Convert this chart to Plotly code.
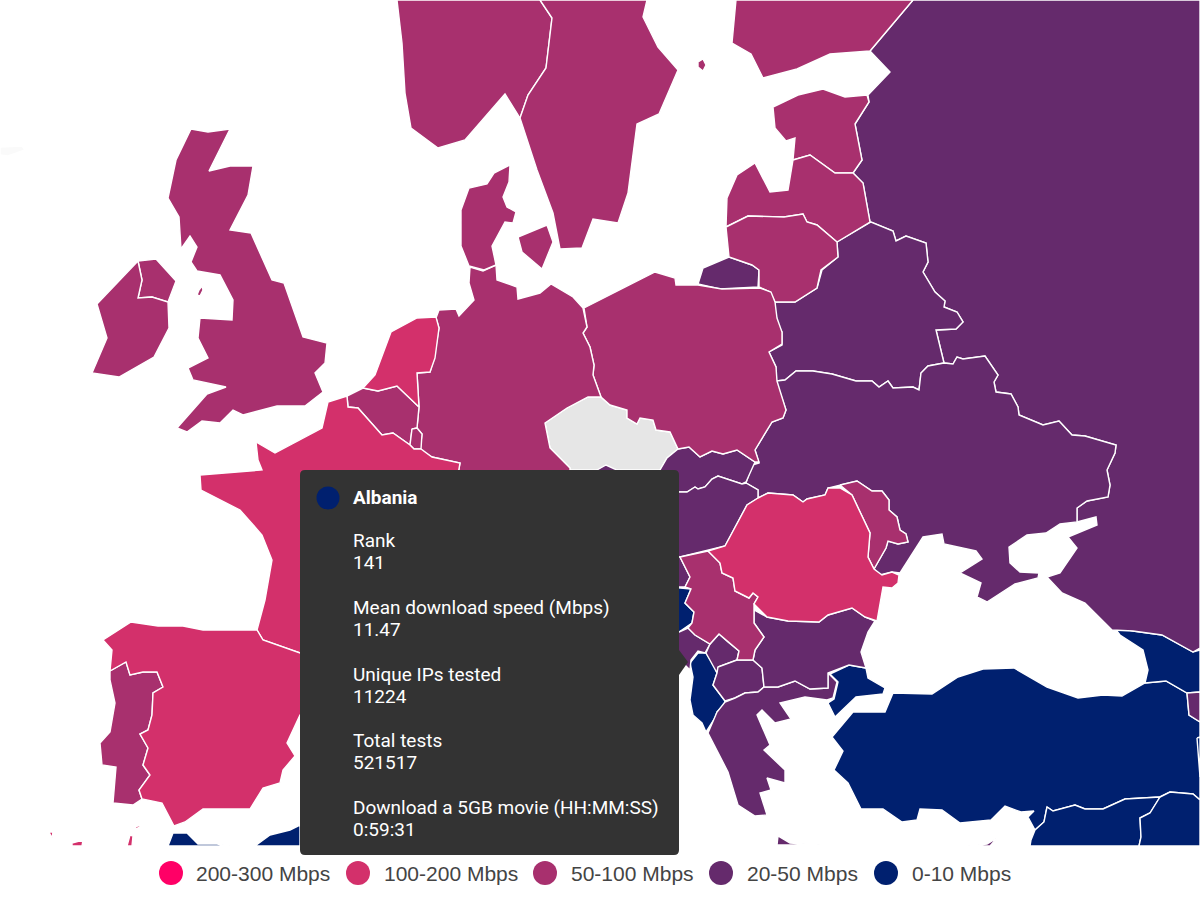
import plotly.graph_objects as go

# outlines, in map units (0-1200 across, 0-900 down)
norway = [(397,0),(402,43),(405,93),(411,128),(438,148),(465,140),(505,94),(520,118),(528,95),(546,68),(549,43),(552,18),(540,0)]
sweden = [(540,0),(552,18),(549,43),(546,68),(528,95),(520,118),(537,170),(553,213),(560,249),(582,248),(593,219),(618,223),(628,193),(632,160),(637,124),(659,114),(678,70),(658,47),(643,17),(647,0)]
finland = [(736,0),(732,43),(751,54),(763,78),(797,69),(830,54),(870,51),(900,15),(913,0)]
russia = [(913,0),(870,51),(890,72),(868,95),(869,102),(855,124),(862,160),(853,173),(863,183),(870,222),(893,231),(896,241),(906,236),(926,243),(928,262),(923,272),(935,292),(945,301),(944,307),(957,312),(963,322),(956,329),(936,330),(944,363),(953,364),(957,357),(963,359),(985,356),(998,375),(994,382),(996,392),(1011,394),(1018,407),(1019,415),(1043,425),(1059,421),(1072,435),(1085,436),(1116,445),(1115,453),(1107,470),(1110,485),(1108,497),(1087,501),(1077,508),(1077,522),(1096,517),(1097,525),(1068,537),(1077,548),(1060,573),(1047,577),(1062,593),(1085,603),(1112,630),(1133,631),(1162,635),(1193,652),(1200,648),(1200,0)]
kaliningrad = [(698,284),(703,268),(729,257),(752,265),(759,270),(758,287),(720,289)]
estonia = [(773,107),(798,95),(823,89),(845,97),(867,95),(869,102),(855,124),(862,160),(853,173),(835,173),(810,155),(793,160),(795,138),(786,141),(775,128)]
latvia = [(793,160),(810,155),(835,173),(853,173),(863,183),(870,222),(837,242),(817,225),(807,222),(803,214),(784,217),(748,216),(726,227),(727,198),(737,175),(755,163),(770,192),(788,190)]
lithuania = [(726,227),(748,216),(784,217),(803,214),(807,222),(817,225),(837,242),(838,257),(821,270),(817,288),(795,302),(775,302),(770,292),(759,287),(759,270),(752,265),(729,257)]
belarus = [(871,222),(837,242),(838,257),(822,270),(817,288),(795,302),(775,302),(775,320),(782,332),(782,345),(769,352),(776,367),(776,381),(785,380),(796,371),(813,371),(832,374),(856,381),(872,381),(879,387),(888,381),(893,388),(913,387),(919,390),(921,373),(928,366),(944,363),(936,330),(956,329),(963,322),(957,312),(944,307),(945,301),(935,292),(923,272),(928,262),(926,243),(906,236),(896,241),(893,231)]
ukraine = [(776,381),(785,380),(796,371),(813,371),(832,374),(856,381),(872,381),(879,387),(888,381),(893,388),(913,387),(919,390),(921,373),(928,366),(944,363),(953,364),(957,357),(963,359),(985,356),(998,375),(994,382),(996,392),(1011,394),(1018,407),(1019,415),(1043,425),(1059,421),(1072,435),(1085,436),(1116,445),(1115,453),(1107,470),(1110,485),(1108,497),(1087,501),(1077,508),(1077,522),(1060,524),(1046,533),(1027,535),(1009,547),(1010,563),(1020,572),(1039,573),(1038,578),(1015,584),(987,602),(977,597),(981,583),(960,573),(982,559),(976,551),(944,544),(942,534),(923,537),(900,573),(892,572),(880,575),(874,569),(886,548),(888,541),(898,544),(908,542),(906,534),(900,530),(897,517),(889,510),(889,500),(882,491),(872,491),(857,481),(840,485),(828,488),(825,495),(807,499),(803,502),(793,495),(768,493),(758,498),(758,490),(746,483),(752,465),(759,463),(755,450),(772,422),(783,418),(786,410)]
moldova = [(840,485),(857,481),(872,491),(882,491),(889,500),(889,510),(897,517),(900,530),(906,534),(908,542),(898,544),(888,541),(886,548),(874,569),(868,557),(870,533),(852,495)]
poland = [(584,308),(655,272),(675,278),(676,285),(698,285),(722,289),(760,288),(771,292),(775,302),(777,318),(782,332),(782,344),(769,352),(776,367),(777,381),(786,410),(783,418),(772,422),(755,450),(759,462),(755,462),(737,450),(723,454),(712,451),(700,457),(689,447),(678,449),(670,432),(656,430),(653,420),(640,418),(637,424),(627,418),(627,410),(610,405),(601,397),(593,375),(594,365),(590,347),(583,333),(587,327)]
germany = [(470,267),(483,271),(496,265),(497,280),(517,287),(518,299),(540,293),(551,284),(573,297),(583,308),(587,327),(583,333),(590,347),(594,365),(593,375),(601,397),(588,397),(567,408),(545,423),(550,448),(570,468),(570,480),(457,480),(460,463),(432,457),(420,450),(422,434),(417,428),(419,407),(417,373),(430,372),(434,358),(439,328),(436,318),(439,310),(456,309),(459,316),(474,300),(469,283)]
netherlands = [(391,332),(417,318),(436,317),(439,328),(435,358),(430,372),(417,373),(419,407),(397,386),(378,391),(363,388),(375,375)]
belgium = [(347,396),(363,388),(378,391),(397,386),(419,407),(417,428),(412,429),(410,445),(393,433),(382,435),(358,408),(348,407)]
luxembourg = [(412,429),(417,428),(422,434),(421,449),(414,449),(410,445)]
france = [(328,402),(347,396),(348,407),(358,408),(382,435),(393,433),(410,445),(414,449),(421,449),(432,457),(460,463),(457,480),(320,660),(300,653),(263,640),(257,630),(265,600),(272,560),(262,535),(240,510),(201,490),(200,475),(262,470),(258,460),(256,442),(275,453),(322,428)]
spain = [(103,640),(131,622),(158,626),(183,626),(203,630),(257,630),(263,640),(300,653),(320,660),(320,700),(300,715),(287,743),(295,756),(283,770),(280,783),(263,788),(250,809),(203,809),(185,822),(174,826),(162,803),(142,799),(139,790),(150,775),(143,765),(148,748),(140,734),(148,730),(152,715),(153,693),(163,687),(157,672),(143,672),(130,675),(126,662),(110,671),(112,650)]
portugal = [(110,671),(126,662),(130,675),(143,672),(157,672),(163,687),(153,693),(152,715),(148,730),(140,734),(148,748),(143,765),(150,775),(139,790),(142,799),(133,805),(113,803),(116,767),(102,765),(100,743),(110,732),(115,703),(110,680)]
canaries_a = [(49,832),(53,832),(52,838)]
canaries_b = [(72,843),(83,840),(82,846),(72,846)]
canaries_c = [(130,835),(133,836),(132,846),(127,846)]
canaries_d = [(135,827),(140,825),(140,827),(136,829)]
morocco = [(168,846),(173,833),(187,833),(198,844),(217,844),(230,846)]
algeria = [(255,846),(270,835),(290,830),(300,825),(300,846)]
britain = [(191,129),(208,132),(230,129),(209,171),(230,166),(253,166),(248,195),(230,230),(251,233),(272,280),(284,283),(303,337),(327,343),(325,363),(315,373),(323,392),(305,406),(277,406),(243,415),(233,410),(220,423),(202,421),(187,432),(177,428),(207,394),(226,387),(193,380),(188,368),(208,358),(198,338),(200,318),(232,320),(233,300),(220,275),(197,271),(191,262),(197,247),(190,236),(181,249),(179,217),(168,198),(176,160)]
isle_of_man = [(202,286),(203,290),(200,296),(197,295),(199,290)]
n_ireland = [(138,261),(156,259),(176,281),(168,302),(152,297),(138,298),(142,280)]
ireland = [(138,261),(142,280),(138,298),(152,297),(168,302),(169,328),(154,357),(119,377),(92,373),(107,338),(97,304)]
denmark = [(510,165),(509,182),(503,197),(507,207),(516,212),(513,223),(505,222),(492,246),(496,265),(484,270),(469,266),(461,246),(461,210),(469,188),(487,184),(494,173)]
zealand = [(518,237),(547,225),(553,242),(542,269),(522,252)]
aland = [(698,62),(703,59),(706,65),(703,71),(698,67)]
czechia = [(601,397),(610,405),(627,410),(627,418),(637,424),(640,418),(653,420),(656,430),(670,432),(678,449),(667,458),(660,470),(570,470),(570,468),(550,448),(545,423),(567,408),(588,397)]
iceland = [(0,147),(22,146),(25,150),(8,156),(0,155)]
austria = [(590,480),(597,470),(606,465),(617,470),(625,480)]
slovakia = [(678,449),(689,447),(700,457),(712,451),(723,454),(737,450),(755,462),(746,482),(742,484),(718,476),(712,479),(705,487),(698,489),(695,487),(687,492),(660,492),(660,470),(667,458)]
hungary = [(670,492),(687,492),(695,487),(698,489),(705,487),(712,479),(718,476),(742,484),(746,483),(758,490),(758,498),(747,505),(725,546),(708,550),(680,557),(670,557)]
croatia = [(670,557),(680,557),(690,577),(685,587),(670,587)]
bosnia = [(670,587),(691,589),(685,603),(694,612),(692,623),(679,632),(670,632)]
montenegro = [(670,636),(688,628),(695,635),(710,644),(705,653),(698,651),(691,660),(690,670),(670,650)]
serbia = [(680,557),(708,551),(720,563),(722,573),(733,578),(735,591),(749,598),(753,593),(758,597),(754,604),(754,610),(754,623),(764,637),(755,650),(753,660),(737,660),(739,651),(728,642),(719,634),(710,644),(695,635),(688,628),(692,623),(694,612),(685,603),(691,589),(685,587),(690,577)]
kosovo = [(710,644),(719,634),(728,642),(739,651),(737,660),(718,667),(717,673),(706,653)]
macedonia = [(718,667),(737,660),(753,660),(762,668),(764,687),(758,692),(745,693),(735,698),(725,701),(713,685),(717,673)]
albania = [(698,653),(706,653),(714,665),(717,673),(713,685),(725,701),(724,705),(717,712),(715,718),(706,732),(702,723),(693,715),(690,700),(693,677),(690,663)]
greece = [(725,702),(735,698),(745,693),(758,692),(764,687),(778,687),(795,681),(810,689),(828,688),(828,673),(837,682),(833,698),(827,700),(805,697),(780,703),(791,719),(775,723),(762,710),(757,715),(770,745),(764,750),(785,770),(785,783),(767,778),(771,790),(760,793),(767,815),(755,816),(738,805),(728,772),(708,733),(717,712)]
crete = [(777,845),(778,836),(790,843),(820,845)]
bulgaria = [(754,610),(767,617),(788,621),(819,622),(828,615),(852,608),(865,617),(875,621),(868,632),(861,652),(866,668),(849,665),(828,673),(828,688),(810,689),(795,681),(778,687),(764,687),(762,668),(753,660),(755,650),(764,637),(754,623)]
romania = [(708,551),(725,546),(747,505),(758,498),(768,493),(793,495),(803,502),(807,499),(825,495),(828,488),(840,488),(852,495),(870,533),(868,557),(874,569),(882,575),(892,572),(899,575),(898,583),(892,588),(883,587),(877,621),(865,617),(852,608),(828,615),(819,622),(788,621),(767,617),(754,604),(758,597),(753,593),(749,598),(735,591),(733,578),(722,573),(720,563)]
thrace = [(830,674),(849,665),(866,668),(868,678),(885,688),(883,694),(856,697),(835,717),(828,703),(834,699),(838,682)]
anatolia = [(893,693),(932,694),(958,677),(983,669),(1014,668),(1047,687),(1078,698),(1103,695),(1122,696),(1145,683),(1166,681),(1187,693),(1189,715),(1200,722),(1200,800),(1193,794),(1170,792),(1160,797),(1125,799),(1103,809),(1085,809),(1075,805),(1053,811),(1047,807),(1044,822),(1035,830),(1028,817),(1034,811),(1021,812),(1005,806),(991,820),(960,823),(942,810),(920,809),(917,820),(902,822),(883,809),(861,809),(848,783),(834,770),(843,751),(832,737),(853,712),(885,712)]
georgia = [(1113,626),(1133,631),(1162,635),(1193,652),(1200,650),(1200,692),(1187,693),(1166,681),(1145,683),(1148,670),(1143,650),(1120,635)]
armenia = [(1187,693),(1200,692),(1200,722),(1189,715)]
syria = [(1047,807),(1053,811),(1075,805),(1085,809),(1103,809),(1125,799),(1160,797),(1150,813),(1140,818),(1141,837),(1139,846),(1030,846),(1031,840),(1035,830),(1044,822)]
iraq = [(1160,797),(1170,792),(1193,794),(1200,800),(1200,846),(1139,846),(1141,837),(1140,818),(1150,813)]
iran = [(1197,738),(1200,737),(1200,777)]
cyprus = [(968,846),(987,844),(997,838),(990,846)]

band_labels = ["200-300 Mbps", "100-200 Mbps", "50-100 Mbps", "20-50 Mbps", "0-10 Mbps"]
band_colors = ["#ff0066", "#d3306b", "#a8306e", "#652a6c", "#00206f"]

band_100_200 = [netherlands, france, spain, romania, canaries_a, canaries_b, canaries_c, canaries_d]
band_50_100 = [norway, sweden, finland, estonia, latvia, lithuania, moldova, poland, germany, belgium, luxembourg, portugal,
               britain, isle_of_man, n_ireland, ireland, denmark, zealand, aland, serbia]
band_20_50 = [russia, kaliningrad, belarus, ukraine, austria, slovakia, hungary, croatia, montenegro, kosovo, macedonia,
              greece, crete, bulgaria, armenia, cyprus]
band_0_10 = [morocco, algeria, bosnia, albania, thrace, anatolia, georgia, syria, iraq, iran]
no_data = [czechia]
faint = [iceland]

tip_title = "Albania"
tip_labels = ["Rank", "Mean download speed (Mbps)", "Unique IPs tested", "Total tests", "Download a 5GB movie (HH:MM:SS)"]
tip_values = ["141", "11.47", "11224", "521517", "0:59:31"]
tip_label_rows = [540, 607, 674, 740, 807]
tip_value_rows = [562, 629, 696, 762, 829]

# key along the bottom
key_marker_x = [171, 358, 545, 721, 886]
key_text_x = [196, 384, 571, 747, 912]
key_y = 873

fig = go.Figure()


def add_shapes(polys, color):
    for poly in polys:
        x = [p[0] for p in poly] + [poly[0][0]]
        y = [p[1] for p in poly] + [poly[0][1]]
        fig.add_trace(go.Scatter(x=x, y=y, mode="lines", fill="toself", fillcolor=color,
                                 line=dict(color="white", width=1.4), showlegend=False, hoverinfo="skip"))


add_shapes(faint, "#fafafa")
add_shapes(no_data, "#e6e6e6")
add_shapes(band_0_10, band_colors[4])
add_shapes(band_20_50, band_colors[3])
add_shapes(band_50_100, band_colors[2])
add_shapes(band_100_200, band_colors[1])

fig.add_trace(go.Scatter(x=key_marker_x, y=[key_y] * 5, mode="markers", showlegend=False, hoverinfo="skip",
                         marker=dict(color=band_colors, size=24, symbol="circle")))

annotations = [dict(x=351, y=497, text="<b>%s</b>" % tip_title, showarrow=False, xanchor="left", yanchor="middle",
                    font=dict(family="Roboto", size=19, color="white"))]
for text, row in zip(tip_labels + tip_values, tip_label_rows + tip_value_rows):
    annotations.append(dict(x=351, y=row, text=text, showarrow=False, xanchor="left", yanchor="middle",
                            font=dict(family="Roboto", size=19, color="white")))
for label, x in zip(band_labels, key_text_x):
    annotations.append(dict(x=x - 2, y=key_y, text=label, showarrow=False, xanchor="left", yanchor="middle",
                            font=dict(family="Liberation Sans", size=21, color="#444444")))

shapes = [
    dict(type="path", fillcolor="#333333", line_width=0,
         path="M 305 470 L 674 470 Q 679 470 679 475 L 679 850 Q 679 855 674 855 L 305 855 Q 300 855 300 850 L 300 475 Q 300 470 305 470 Z"),
    dict(type="path", fillcolor="#333333", line_width=0, path="M 679 650 L 688 662 L 679 675 Z"),
    dict(type="circle", fillcolor=band_colors[4], line_width=0, x0=316.5, x1=339.5, y0=486.5, y1=509.5),
]

fig.update_layout(
    width=1200, height=900,
    margin=dict(l=0, r=0, t=0, b=0),
    paper_bgcolor="white", plot_bgcolor="white",
    xaxis=dict(range=[0, 1200], visible=False, fixedrange=True),
    yaxis=dict(range=[900, 0], visible=False, fixedrange=True),
    shapes=shapes,
    annotations=annotations,
    showlegend=False,
)

fig.write_html("out.html", post_script="document.body.style.margin='0'", config={"displayModeBar": False})
